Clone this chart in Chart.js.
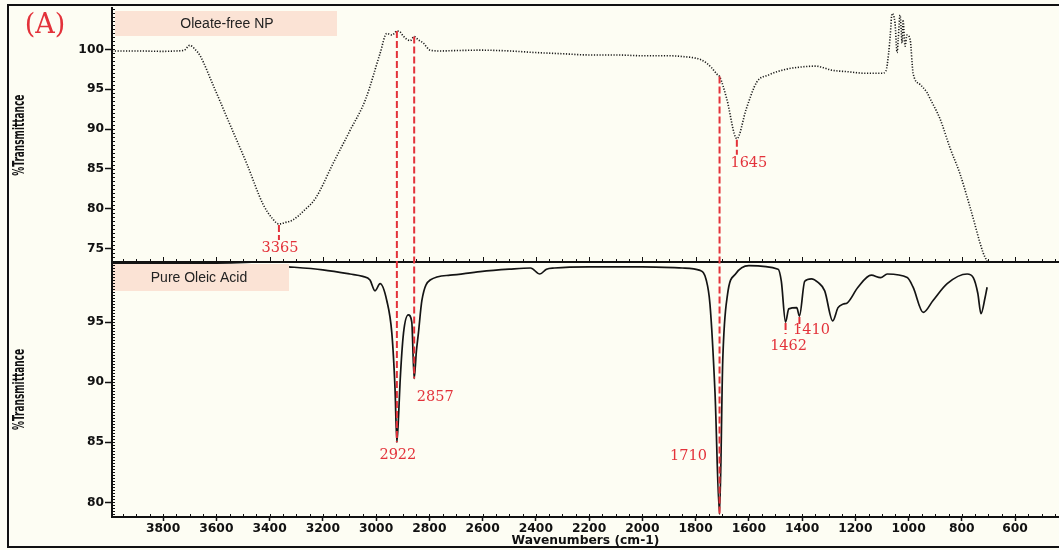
<!DOCTYPE html>
<html>
<head>
<meta charset="utf-8">
<title>FTIR spectra</title>
<script src="https://cdn.jsdelivr.net/npm/chart.js@4.4.1/dist/chart.umd.min.js"></script>
<style>
  html, body { margin: 0; padding: 0; background: #fdfdf3; }
  #wrap { position: relative; width: 1059px; height: 550px; overflow: hidden; }
  #wrap canvas { position: absolute; left: 0; top: 0; }
</style>
</head>
<body>
<div id="wrap">
  <canvas id="npChart" width="1059" height="550"></canvas>
  <canvas id="oleicChart" width="1059" height="550"></canvas>
</div>
<script>
// ---- Spectrum 1: oleate-free nanoparticles (wavenumber cm-1, %T) ----
const npWavenumbers = [3992, 3900, 3800, 3750, 3720, 3700, 3680, 3661, 3612, 3548, 3485, 3425, 3390, 3365,
  3340, 3313, 3270, 3226, 3163, 3100, 3040, 2985, 2960, 2940, 2922, 2910, 2899, 2872, 2857, 2842, 2823,
  2797, 2760, 2700, 2609, 2500, 2400, 2300, 2200, 2100, 2000, 1900, 1850, 1800, 1780, 1760, 1740, 1720,
  1710, 1683, 1645, 1610, 1570, 1525, 1461, 1400, 1348, 1320, 1290, 1230, 1160, 1100, 1085, 1075, 1069,
  1062, 1051, 1043, 1039, 1032, 1024, 1021, 1013, 1006, 994, 983, 957, 931, 919, 882, 844, 807, 769, 720, 705];
const npTransmittance = [99.8, 99.8, 99.75, 99.8, 99.9, 100.5, 100.0, 99.2, 95.5, 90.5, 85.6, 80.6, 78.8, 78.1,
  78.3, 78.6, 79.8, 81.4, 85.6, 89.7, 93.7, 99.5, 102.0, 101.8, 102.3, 102.2, 101.7, 101.1, 101.6, 101.2, 100.8,
  99.9, 99.8, 99.85, 99.9, 99.8, 99.6, 99.45, 99.3, 99.3, 99.2, 99.2, 99.1, 98.9, 98.7, 98.3, 97.7, 96.9,
  96.6, 93.8, 88.8, 92.5, 95.9, 96.8, 97.5, 97.8, 97.9, 97.7, 97.4, 97.2, 97.0, 97.0, 97.3, 99.5, 101.7,
  104.5, 103.3, 99.6, 101.2, 104.3, 100.8, 103.7, 100.4, 101.8, 101.2, 97.0, 95.6, 94.6, 93.8, 91.3, 87.6, 84.4, 80.2, 74.5, 73.4];

// ---- Spectrum 2: pure oleic acid ----
const oleicWavenumbers = [3992, 3800, 3600, 3400, 3330, 3200, 3098, 3050, 3023, 3004, 2985, 2960, 2941, 2929,
  2922, 2915, 2910, 2897, 2879, 2866, 2857, 2849, 2841, 2828, 2797, 2722, 2609, 2500, 2420, 2385, 2360, 2330,
  2200, 2000, 1850, 1783, 1760, 1746, 1727, 1710, 1698, 1680, 1650, 1600, 1490, 1478, 1462, 1450, 1420, 1410,
  1390, 1365, 1340, 1315, 1285, 1265, 1245, 1230, 1190, 1140, 1105, 1080, 1005, 983, 945, 908, 855, 780, 757,
  740, 728, 713, 705];
const oleicTransmittance = [99.9, 99.9, 99.85, 99.7, 99.6, 99.35, 99.0, 98.8, 98.5, 97.6, 98.2, 96.8, 94.1, 89.5,
  85.0, 87.5, 90.0, 94.1, 95.6, 95.0, 90.3, 92.5, 94.1, 96.8, 98.5, 98.9, 99.2, 99.4, 99.5, 99.0, 99.4, 99.5,
  99.6, 99.6, 99.5, 99.3, 98.5, 96.5, 89.1, 79.0, 91.8, 97.3, 99.0, 99.7, 99.4, 98.4, 95.0, 96.1, 96.2, 95.5,
  98.4, 98.6, 98.3, 97.6, 95.1, 96.2, 96.5, 96.6, 97.9, 98.9, 98.7, 99.0, 98.7, 97.9, 95.8, 96.8, 98.2, 99.0, 98.7,
  97.4, 95.7, 97.0, 97.9];

// ---- Axis ticks ----
const xTickValues = [3800, 3600, 3400, 3200, 3000, 2800, 2600, 2400, 2200, 2000, 1800, 1600, 1400, 1200, 1000, 800, 600];
const npYTicks = [75, 80, 85, 90, 95, 100];
const oleicYTicks = [80, 85, 90, 95];

// ---- Assigned bands ----
const npBands = [3365, 1645];
const npBandValues = [78.1, 88.8];
const oleicBands = [1462, 1410];
const oleicBandValues = [95.0, 95.5];
const sharedBands = [2922, 2857, 1710];
const sharedNpValues = [102.3, 101.6, 96.6];
const sharedOleicValues = [85.0, 90.3, 79.0];

const panelTitles = ['Oleate-free NP', 'Pure Oleic Acid'];
const yTitle = '%Transmittance';
const xTitle = 'Wavenumbers (cm-1)';
const figureTag = '(A)';

// ---- Layout / style ----
const X_MIN = 435, X_MAX = 3992;
const RED = '#e3323a';
const INK = '#111';
const TICK_FONT = { family: "'DejaVu Sans', Verdana, sans-serif", weight: 'bold', size: 12.3 };
const BAND_FONT = "14.5px 'DejaVu Serif', serif";
// label offsets (px) from the end of each band marker
const bandLabelOffset = {
  3365: [1, 24], 1645: [12, 25], 1462: [3, 24], 1410: [12, 14],
  2922: [1, 13], 2857: [21, 19], 1710: [-31, -58]
};

function toPoints(xs, ys) { return xs.map((x, i) => ({ x, y: ys[i] })); }

function yAxis(min, max, ticks) {
  return {
    min, max,
    afterBuildTicks: s => { s.ticks = ticks.map(v => ({ value: v })); },
    afterFit: s => { s.width = 112; },
    border: { display: true, color: INK, width: 2 },
    grid: { drawOnChartArea: false, tickLength: 7, tickColor: INK, tickWidth: 1.5 },
    ticks: { font: TICK_FONT, color: INK, padding: 1 }
  };
}

// condensed, rotated axis title
function drawYTitle(ctx, area) {
  ctx.save();
  ctx.font = "bold 15px 'DejaVu Sans', sans-serif";
  const w = ctx.measureText(yTitle).width;
  ctx.translate(20, (area.top + area.bottom) / 2);
  ctx.rotate(-Math.PI / 2);
  ctx.scale(81 / w, 1);
  ctx.fillStyle = INK;
  ctx.textAlign = 'center'; ctx.textBaseline = 'middle';
  ctx.fillText(yTitle, 0, 0);
  ctx.restore();
}
function minorY(ctx, scale, left, step, len) {
  ctx.beginPath();
  for (let v = Math.ceil(scale.min / step) * step; v <= scale.max; v += step) {
    const py = Math.round(scale.getPixelForValue(v)) + 0.5;
    ctx.moveTo(left, py); ctx.lineTo(left + len, py);
  }
  ctx.stroke();
}
function minorX(ctx, scale, yPix, step, len) {
  ctx.beginPath();
  for (let v = Math.ceil(X_MIN / step) * step; v <= X_MAX; v += step) {
    const px = Math.round(scale.getPixelForValue(v)) + 0.5;
    ctx.moveTo(px, yPix); ctx.lineTo(px, yPix - len);
  }
  ctx.stroke();
}
function titleBox(ctx, x0, y0, x1, y1, text, cx) {
  ctx.fillStyle = '#fbe3d5';
  ctx.fillRect(x0, y0, x1 - x0, y1 - y0);
  ctx.fillStyle = '#222';
  ctx.font = "14px 'Liberation Sans', Arial, sans-serif";
  ctx.textAlign = 'center'; ctx.textBaseline = 'middle';
  ctx.fillText(text, cx, (y0 + y1) / 2 + 1);
}
function dashedV(ctx, x, y0, y1) {
  ctx.save();
  ctx.strokeStyle = RED; ctx.lineWidth = 2; ctx.setLineDash([7, 3]);
  ctx.beginPath(); ctx.moveTo(x, y0); ctx.lineTo(x, y1); ctx.stroke();
  ctx.restore();
}
function bandLabel(ctx, band, x, y) {
  const off = bandLabelOffset[band] || [0, 12];
  ctx.fillStyle = RED; ctx.font = BAND_FONT;
  ctx.textAlign = 'center'; ctx.textBaseline = 'middle';
  ctx.fillText(String(band), x + off[0], y + off[1]);
}

// ---- Upper panel decorations ----
const npDecor = {
  id: 'npDecor',
  afterDraw(chart) {
    const { ctx, chartArea: a, scales: { x, y } } = chart;
    ctx.save();
    ctx.strokeStyle = INK; ctx.lineWidth = 1;
    minorY(ctx, y, a.left, 0.5, 3);
    // panel boundary axis
    ctx.lineWidth = 2;
    ctx.beginPath(); ctx.moveTo(a.left, a.bottom); ctx.lineTo(a.right, a.bottom); ctx.stroke();
    ctx.lineWidth = 1;
    minorX(ctx, x, a.bottom, 50, 3);
    minorX(ctx, x, a.bottom, 200, 5);
    // outer frame
    ctx.lineWidth = 2;
    ctx.strokeRect(8, 5, 1080, 542);
    drawYTitle(ctx, a);
    // figure tag
    ctx.fillStyle = RED; ctx.font = "27px 'DejaVu Serif', serif";
    ctx.textAlign = 'center'; ctx.textBaseline = 'middle';
    ctx.fillText(figureTag, 45, 26);
    titleBox(ctx, 115, 11, 337, 36, panelTitles[0], 227);
    // band markers
    npBands.forEach((b, i) => {
      const px = x.getPixelForValue(b), py = y.getPixelForValue(npBandValues[i]);
      dashedV(ctx, px, py + 1, py + 16);
      bandLabel(ctx, b, px, py);
    });
    ctx.restore();
  }
};

const npChart = new Chart(document.getElementById('npChart'), {
  type: 'line',
  data: {
    datasets: [{
      data: toPoints(npWavenumbers, npTransmittance),
      borderColor: '#1a1a1a', borderWidth: 1.6, borderDash: [1.2, 1.6],
      pointRadius: 0, cubicInterpolationMode: 'monotone', fill: false
    }]
  },
  options: {
    responsive: false, animation: false, devicePixelRatio: 1,
    layout: { padding: { left: 0, right: 0, top: 5, bottom: 288 } },
    plugins: { legend: { display: false }, tooltip: { enabled: false } },
    scales: {
      x: { type: 'linear', reverse: true, min: X_MIN, max: X_MAX, display: false },
      y: yAxis(73.33, 105.14, npYTicks)
    }
  },
  plugins: [npDecor]
});

// ---- Lower panel decorations (also carries the bands shared by both panels) ----
const oleicDecor = {
  id: 'oleicDecor',
  afterDatasetsDraw(chart) {
    const { ctx } = chart;
    ctx.save();
    titleBox(ctx, 113, 264, 289, 291, panelTitles[1], 199);
    ctx.restore();
  },
  afterDraw(chart) {
    const { ctx, chartArea: a, scales: { x, y } } = chart;
    const topY = npChart.scales.y;
    ctx.save();
    ctx.strokeStyle = INK; ctx.lineWidth = 1;
    minorY(ctx, y, a.left, 0.25, 3);
    minorX(ctx, x, a.bottom, 50, 3);
    drawYTitle(ctx, a);
    oleicBands.forEach((b, i) => {
      const px = x.getPixelForValue(b), py = y.getPixelForValue(oleicBandValues[i]);
      dashedV(ctx, px, py + 1, py + 12);
      bandLabel(ctx, b, px, py);
    });
    sharedBands.forEach((b, i) => {
      const px = x.getPixelForValue(b);
      const y0 = topY.getPixelForValue(sharedNpValues[i]);
      const y1 = y.getPixelForValue(sharedOleicValues[i]);
      dashedV(ctx, px, y0, y1);
      bandLabel(ctx, b, px, y1);
    });
    ctx.restore();
  }
};

new Chart(document.getElementById('oleicChart'), {
  type: 'line',
  data: {
    datasets: [{
      data: toPoints(oleicWavenumbers, oleicTransmittance),
      borderColor: '#141414', borderWidth: 1.7,
      pointRadius: 0, cubicInterpolationMode: 'monotone', fill: false
    }]
  },
  options: {
    responsive: false, animation: false, devicePixelRatio: 1,
    layout: { padding: { left: 0, right: 0, top: 262, bottom: 2 } },
    plugins: { legend: { display: false }, tooltip: { enabled: false } },
    scales: {
      x: {
        type: 'linear', reverse: true, min: X_MIN, max: X_MAX,
        afterBuildTicks: s => { s.ticks = xTickValues.map(v => ({ value: v })); },
        afterFit: s => { s.height = 31; },
        border: { display: true, color: INK, width: 2 },
        grid: { drawOnChartArea: false, tickLength: 4, tickColor: INK, tickWidth: 1.5 },
        ticks: { font: TICK_FONT, color: INK, padding: 0, maxRotation: 0, autoSkip: false,
                 callback: v => String(v) },
        title: { display: true, text: xTitle, font: { family: "'DejaVu Sans', Verdana, sans-serif", weight: 'bold', size: 12.3 }, color: INK, padding: { top: 0, bottom: 0 } }
      },
      y: yAxis(78.78, 100, oleicYTicks)
    }
  },
  plugins: [oleicDecor]
});
</script>
</body>
</html>
